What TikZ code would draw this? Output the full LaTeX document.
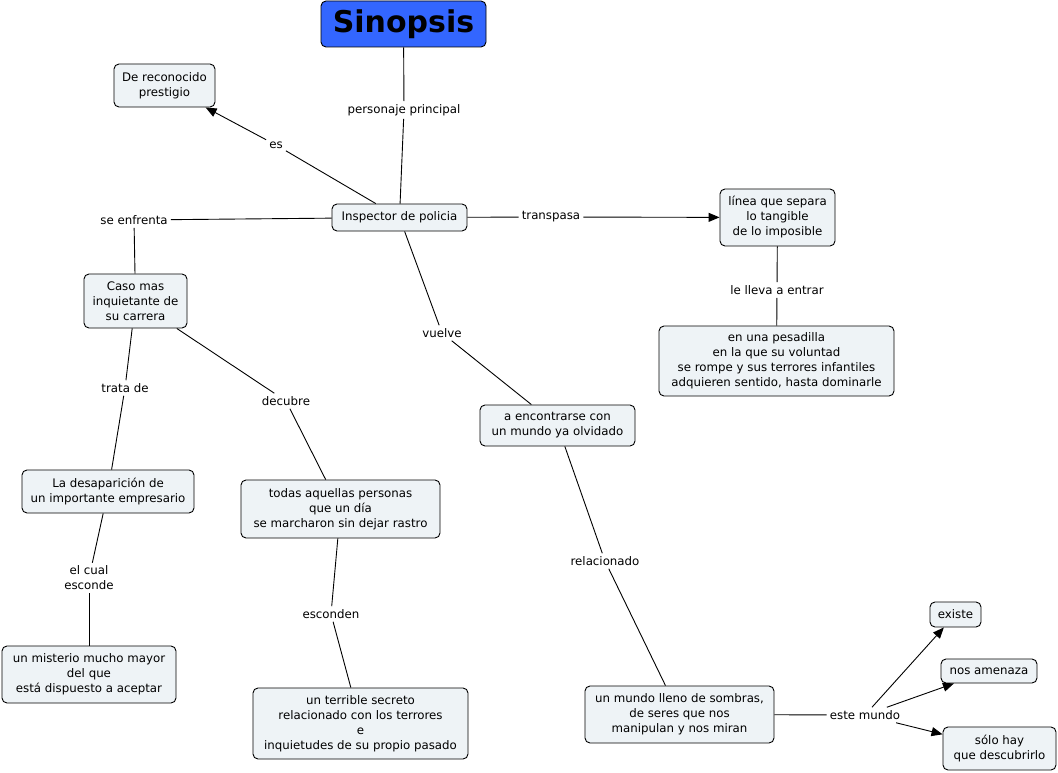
\documentclass[tikz,border=0pt]{standalone}
\usepackage{fontspec}
\setmainfont{DejaVu Sans}
\usetikzlibrary{arrows.meta}
\definecolor{boxfill}{HTML}{EEF3F6}
\definecolor{topfill}{HTML}{3366FF}
\begin{document}
\begin{tikzpicture}[x=1pt,y=-1pt,
  txt/.style={font=\fontsize{11.8}{15}\selectfont},
  box/.style={txt,draw=black,line width=0.9pt,rounded corners=5pt,fill=boxfill,align=center,inner sep=0pt},
  lbl/.style={txt,align=center,inner sep=3pt},
  conn/.style={line width=0.9pt},
  arr/.style={conn,-{Triangle[length=11pt,width=9pt]}}]
\useasboundingbox (0,0) rectangle (1058,773);

% concepts
\node[box,fill=topfill,minimum width=165pt,minimum height=46pt,font=\fontsize{30}{36}\selectfont\bfseries] (top) at (403.5,24) {Sinopsis};
\node[box,minimum width=101pt,minimum height=43pt] (prest) at (164.5,85.5) {De reconocido\\prestigio};
\node[box,minimum width=135pt,minimum height=27pt] (insp) at (399.5,217.5) {Inspector de policia};
\node[box,minimum width=115pt,minimum height=57pt] (linea) at (777.5,217.5) {línea que separa\\lo tangible\\de lo imposible};
\node[box,minimum width=235pt,minimum height=70pt] (pesad) at (776.5,361) {en una pesadilla\\en la que su voluntad\\se rompe y sus terrores infantiles\\adquieren sentido, hasta dominarle};
\node[box,minimum width=103pt,minimum height=54pt] (caso) at (135.5,301) {Caso mas\\inquietante de\\su carrera};
\node[box,minimum width=155pt,minimum height=41pt] (encont) at (557.5,425.5) {a encontrarse con\\un mundo ya olvidado};
\node[box,minimum width=172pt,minimum height=43pt] (desap) at (108,491.5) {La desaparición de\\un importante empresario};
\node[box,minimum width=199pt,minimum height=58pt] (todas) at (340.5,509) {todas aquellas personas\\que un día\\se marcharon sin dejar rastro};
\node[box,minimum width=174pt,minimum height=57pt] (mist) at (89,674.5) {un misterio mucho mayor\\del que\\está dispuesto a aceptar};
\node[box,minimum width=215pt,minimum height=71pt] (secreto) at (360.5,723.5) {un terrible secreto\\relacionado con los terrores\\e\\inquietudes de su propio pasado};
\node[box,minimum width=189pt,minimum height=57pt] (sombras) at (679.5,714.5) {un mundo lleno de sombras,\\de seres que nos\\manipulan y nos miran};
\node[box,minimum width=51pt,minimum height=25pt] (existe) at (955.5,614.5) {existe};
\node[box,minimum width=96pt,minimum height=24pt] (amen) at (989,671) {nos amenaza};
\node[box,minimum width=113pt,minimum height=43pt] (solo) at (999.5,748.5) {sólo hay\\que descubrirlo};

% linking phrases
\node[lbl] (l1) at (404,110) {personaje principal};
\node[lbl] (l2) at (276,145) {es};
\node[lbl] (l3) at (134,220) {se enfrenta};
\node[lbl] (l4) at (551,217) {transpasa};
\node[lbl] (l5) at (777,290) {le lleva a entrar};
\node[lbl] (l6) at (442,333) {vuelve};
\node[lbl] (l7) at (125,388) {trata de};
\node[lbl] (l8) at (286,401) {decubre};
\node[lbl] (l9) at (89,578) {el cual\\esconde};
\node[lbl] (l10) at (331,614) {esconden};
\node[lbl] (l11) at (605,561) {relacionado};
\node[lbl] (l12) at (865,715) {este mundo};

% connectors
\draw[conn] (top) -- (l1);
\draw[conn] (l1) -- (insp);
\draw[conn] (insp) -- (l2);
\draw[arr] (l2) -- (prest);
\draw[conn] (insp) -- (l3);
\draw[conn] (l3) -- (caso);
\draw[conn] (insp) -- (l4);
\draw[arr] (l4) -- (linea);
\draw[conn] (linea) -- (l5);
\draw[conn] (l5) -- (pesad);
\draw[conn] (insp) -- (l6);
\draw[conn] (l6) -- (encont);
\draw[conn] (caso) -- (l7);
\draw[conn] (l7) -- (desap);
\draw[conn] (caso) -- (l8);
\draw[conn] (l8) -- (todas);
\draw[conn] (desap) -- (l9);
\draw[conn] (l9) -- (mist);
\draw[conn] (todas) -- (l10);
\draw[conn] (l10) -- (secreto);
\draw[conn] (encont) -- (l11);
\draw[conn] (l11) -- (sombras);
\draw[conn] (sombras) -- (l12);
\draw[arr] (l12) -- (existe);
\draw[arr] (l12) -- (amen);
\draw[arr] (l12) -- (solo);
\end{tikzpicture}
\end{document}
